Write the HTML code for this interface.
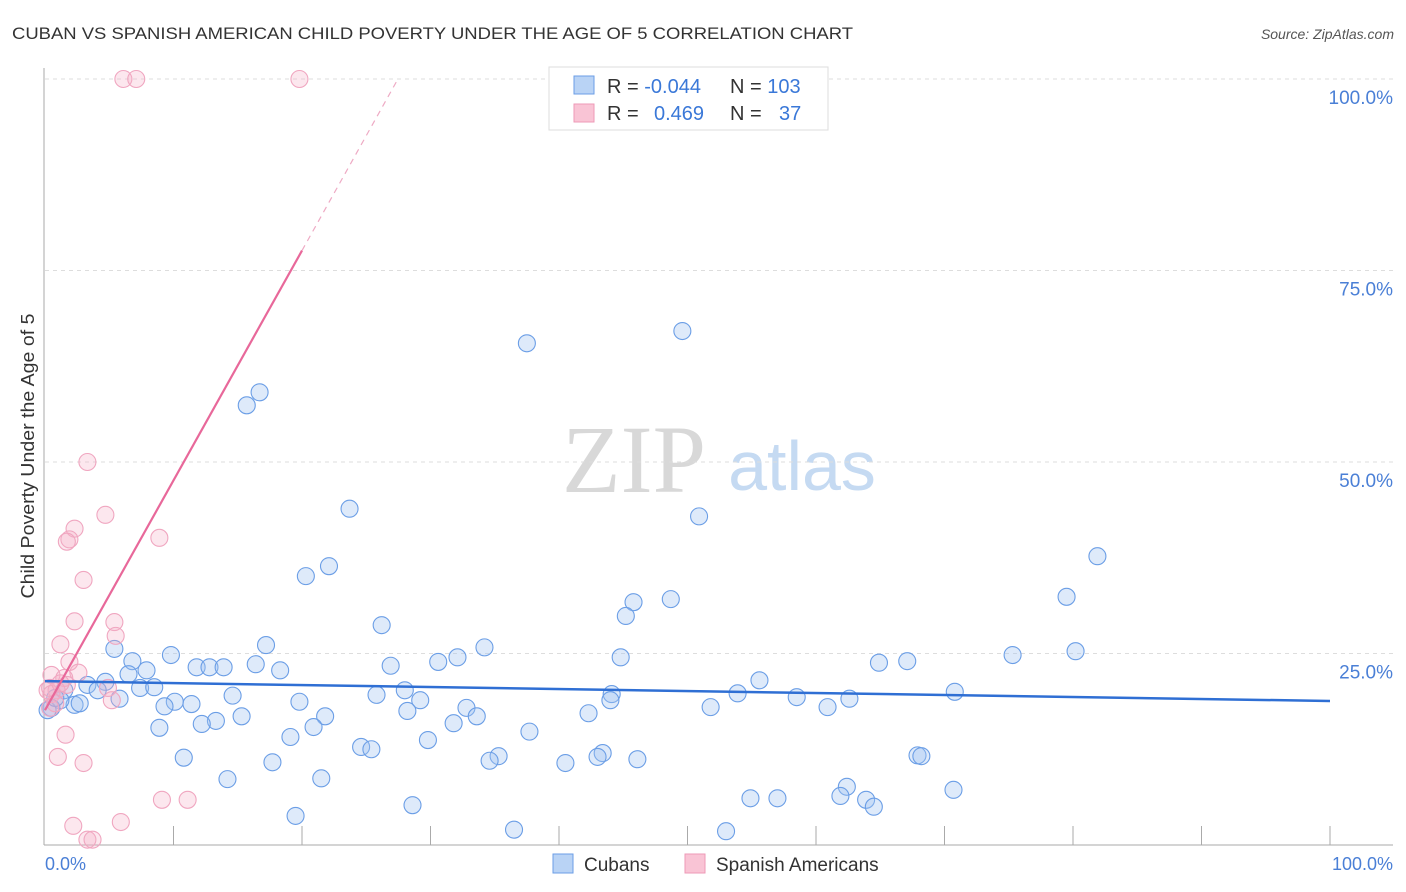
<!DOCTYPE html>
<html><head><meta charset="utf-8"><style>
body{margin:0;background:#fff;font-family:"Liberation Sans",sans-serif;}
svg{display:block}
</style></head><body>
<svg width="1406" height="892" xmlns="http://www.w3.org/2000/svg">
<text x="12" y="39" font-size="17" fill="#333" textLength="841" lengthAdjust="spacingAndGlyphs">CUBAN VS SPANISH AMERICAN CHILD POVERTY UNDER THE AGE OF 5 CORRELATION CHART</text>
<text x="1394" y="39" font-size="14" fill="#555" font-style="italic" text-anchor="end">Source: ZipAtlas.com</text>
<g>
<text x="634" y="492" font-size="96" font-family="Liberation Serif,serif" fill="#d8d8d8" text-anchor="middle">ZIP</text>
<text x="802" y="490" font-size="70" fill="#c5daf2" text-anchor="middle">atlas</text>
</g>
<g id="grid"></g>
<g id="axes"></g>
<g id="marks"></g>
<g id="trends"></g>
<text x="34" y="456" font-size="18" fill="#333" text-anchor="middle" textLength="285" lengthAdjust="spacingAndGlyphs" transform="rotate(-90 34 456)">Child Poverty Under the Age of 5</text>
<text x="45" y="870" font-size="18" fill="#4a7fd6">0.0%</text>
<text x="1393" y="870" font-size="18" fill="#4a7fd6" text-anchor="end">100.0%</text>
<g>
<rect x="549" y="67" width="279" height="63" fill="#fff" stroke="#ddd"/>
<rect x="574" y="76" width="20" height="18" fill="#b9d3f5" stroke="#6b9ee6"/>
<rect x="574" y="104" width="20" height="18" fill="#f9c4d5" stroke="#ee9ab7"/>
<text x="607" y="93" font-size="20" fill="#333">R = <tspan fill="#3a78d8">-0.044</tspan></text>
<text x="730" y="93" font-size="20" fill="#333">N = <tspan fill="#3a78d8">103</tspan></text>
<text x="607" y="120" font-size="20" fill="#333">R = </text><text x="654" y="120" font-size="20" fill="#3a78d8">0.469</text>
<text x="730" y="120" font-size="20" fill="#333">N = </text><text x="779" y="120" font-size="20" fill="#3a78d8">37</text>
</g>
<g>
<rect x="553" y="854" width="20" height="19" fill="#b9d3f5" stroke="#6b9ee6"/>
<text x="584" y="871" font-size="19" fill="#333">Cubans</text>
<rect x="685" y="854" width="20" height="19" fill="#f9c4d5" stroke="#ee9ab7"/>
<text x="716" y="871" font-size="19" fill="#333">Spanish Americans</text>
</g>
</svg>
<script>
const yTicks=[25,50,75,100];
const yTickLabels=["25.0%","50.0%","75.0%","100.0%"];
const xTicks=[10,20,30,40,50,60,70,80,90,100];
const cubanX=[37.5,49.6,15.7,16.7,23.7,50.9,81.9,20.3,22.1,79.5,45.8,48.7,45.2,26.2,17.2,34.2,80.2,75.3,44.8,32.1,30.6,67.1,64.9,5.4,6.8,9.8,11.8,12.8,13.9,16.4,18.3,7.9,6.5,26.9,55.6,4.7,3.3,4.1,7.4,8.5,1.5,28.0,25.8,44.1,53.9,58.5,70.8,14.6,10.1,11.4,19.8,29.2,44.0,5.8,2.3,1.2,0.5,0.2,0.8,2.7,9.3,28.2,32.8,51.8,60.9,62.6,42.3,15.3,21.8,33.6,13.3,12.2,8.9,20.9,31.8,37.7,19.1,29.8,24.6,25.4,35.3,34.6,10.8,17.7,43.4,43.0,46.1,40.5,67.9,68.2,21.5,14.2,62.4,70.7,54.9,57.0,61.9,63.9,64.5,28.6,19.5,36.5,53.0];
const cubanY=[65.5,67.1,57.4,59.1,43.9,42.9,37.7,35.1,36.4,32.4,31.7,32.1,29.9,28.7,26.1,25.8,25.3,24.8,24.5,24.5,23.9,24.0,23.8,25.6,24.0,24.8,23.2,23.2,23.2,23.6,22.8,22.8,22.3,23.4,21.5,21.3,20.9,20.2,20.5,20.6,20.2,20.2,19.6,19.7,19.8,19.3,20.0,19.5,18.7,18.4,18.7,18.9,18.9,19.1,18.3,18.9,17.9,17.6,19.2,18.5,18.1,17.5,17.9,18.0,18.0,19.1,17.2,16.8,16.8,16.8,16.2,15.8,15.3,15.4,15.9,14.8,14.1,13.7,12.8,12.5,11.6,11.0,11.4,10.8,12.0,11.5,11.2,10.7,11.7,11.6,8.7,8.6,7.6,7.2,6.1,6.1,6.4,5.9,5.0,5.2,3.8,2.0,1.8];
const spanX=[6.1,7.1,19.8,3.3,4.7,2.3,1.9,1.7,8.9,3.0,2.3,5.4,5.5,1.2,1.9,0.5,2.6,1.5,1.7,0.2,0.9,0.5,4.9,5.2,0.8,0.4,1.6,1.0,3.0,9.1,11.1,2.2,5.9,3.3,3.7,0.4,1.2];
const spanY=[100,100,100,50.0,43.1,41.3,39.9,39.6,40.1,34.6,29.2,29.1,27.3,26.2,23.9,22.2,22.5,21.8,20.9,20.2,20.2,19.7,20.5,18.9,18.5,17.9,14.4,11.5,10.7,5.9,5.9,2.5,3.0,0.7,0.7,20.5,21.1];
const cubanTrend=[21.4,18.8];
const spanTrend=[17.6,3.0];
const NS="http://www.w3.org/2000/svg";
const X0=45,X1=1330,Y0=845,Y1=79;
function sx(v){return X0+(X1-X0)*v/100;}
function sy(v){return Y0-(Y0-Y1)*v/100;}
function mk(tag,attrs,parent){const e=document.createElementNS(NS,tag);for(const k in attrs)e.setAttribute(k,attrs[k]);parent.appendChild(e);return e;}
const grid=document.getElementById('grid'),axes=document.getElementById('axes'),marks=document.getElementById('marks'),trends=document.getElementById('trends');
yTicks.forEach((t,i)=>{
  const l=mk('line',{x1:45,x2:1393,y1:sy(t),y2:sy(t),stroke:'#ddd','stroke-dasharray':'4,4'},grid);
  
  
  const tx=mk('text',{x:1393,y:sy(t)+25,'font-size':19,fill:'#4a7fd6','text-anchor':'end'},axes);
  tx.textContent=yTickLabels[i];
  
  
});
mk('line',{x1:44,x2:44,y1:68,y2:845,stroke:'#aaa'},axes);
mk('line',{x1:44,x2:1393,y1:845,y2:845,stroke:'#aaa'},axes);
xTicks.forEach(t=>{
  const l=mk('line',{x1:sx(t),x2:sx(t),y1:826,y2:845,stroke:'#aaa'},axes);
  
  
});
cubanX.forEach((v,i)=>{
  const c=mk('circle',{cx:sx(v),cy:sy(cubanY[i]),r:8.5,fill:'rgba(160,196,240,0.35)',stroke:'#6b9ee6','stroke-width':1.1},marks);
  
  
});
spanX.forEach((v,i)=>{
  const c=mk('circle',{cx:sx(v),cy:sy(spanY[i]),r:8.5,fill:'rgba(245,175,200,0.3)',stroke:'#f0a6c0','stroke-width':1.1},marks);
  
  
});
const bl=mk('line',{x1:sx(0),y1:sy(cubanTrend[0]),x2:sx(100),y2:sy(cubanTrend[1]),stroke:'#2f6fd4','stroke-width':2.5},trends);


const xe=20,xd=(100-spanTrend[0])/spanTrend[1];
const pl=mk('line',{x1:sx(0),y1:sy(spanTrend[0]),x2:sx(xe),y2:sy(spanTrend[0]+spanTrend[1]*xe),stroke:'#e8689a','stroke-width':2.2},trends);


const pd=mk('line',{x1:sx(xe),y1:sy(spanTrend[0]+spanTrend[1]*xe),x2:sx(xd),y2:sy(100),stroke:'#eeaac4','stroke-width':1.2,'stroke-dasharray':'6,5'},trends);


</script>
</body></html>
